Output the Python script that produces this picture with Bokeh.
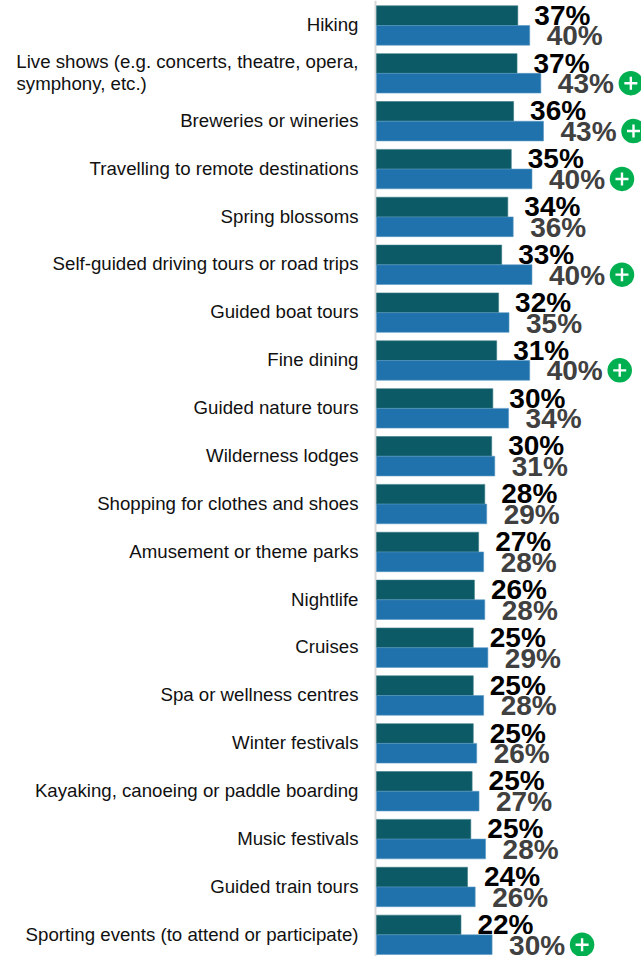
from bokeh.embed import file_html
from bokeh.models import ColumnDataSource, Range1d, Span
from bokeh.plotting import figure
from bokeh.resources import INLINE
from bokeh.core.properties import value

activities = [
    "Hiking",
    "Live shows (e.g. concerts, theatre, opera,\nsymphony, etc.)",
    "Breweries or wineries",
    "Travelling to remote destinations",
    "Spring blossoms",
    "Self-guided driving tours or road trips",
    "Guided boat tours",
    "Fine dining",
    "Guided nature tours",
    "Wilderness lodges",
    "Shopping for clothes and shoes",
    "Amusement or theme parks",
    "Nightlife",
    "Cruises",
    "Spa or wellness centres",
    "Winter festivals",
    "Kayaking, canoeing or paddle boarding",
    "Music festivals",
    "Guided train tours",
    "Sporting events (to attend or participate)",
]
earlier = [36.8, 36.6, 35.7, 35.1, 34.2, 32.6, 31.8, 31.3, 30.3, 30.0,
           28.2, 26.6, 25.5, 25.2, 25.2, 25.2, 24.9, 24.56, 23.7, 22.0]
latest = [39.9, 42.8, 43.49, 40.49, 35.6, 40.49, 34.51, 39.9, 34.4, 30.8,
          28.7, 27.9, 28.2, 29.0, 27.9, 26.1, 26.7, 28.4, 25.7, 30.1]
significant_gain = [False, True, True, True, False, True, False, True, False, False,
                    False, False, False, False, False, False, False, False, False, True]

W, H = 641, 956
ZERO_PX = 376        # pixel position of the zero line
PX_PER_UNIT = 3.84   # pixels per percentage point
ROW_PX = 47.86       # row pitch
FIRST_ROW_PX = 25    # centre of the first row
BAR_PX = 19.7        # thickness of one bar
BADGE_GAP_PX = 90    # bar end to centre of the "+" badge
FONT = "Liberation Sans"

rows = list(range(len(activities)))
half_bar = BAR_PX / ROW_PX / 2

p = figure(
    width=W, height=H, output_backend="svg", toolbar_location=None,
    x_range=Range1d(-ZERO_PX / PX_PER_UNIT, (W - ZERO_PX) / PX_PER_UNIT),
    y_range=Range1d((H - FIRST_ROW_PX) / ROW_PX, -FIRST_ROW_PX / ROW_PX),
    min_border=0, outline_line_color=None, x_axis_type=None, y_axis_type=None,
)
p.grid.visible = False

p.add_layout(Span(location=-1 / PX_PER_UNIT, dimension="height", line_color="#d9d9d9",
                  line_width=2, level="underlay"))

src = ColumnDataSource(dict(
    top_y=[r - half_bar for r in rows],
    low_y=[r + half_bar for r in rows],
    earlier=earlier,
    latest=latest,
    earlier_txt=[f"{v:.0f}%" for v in earlier],
    latest_txt=[f"{v:.0f}%" for v in latest],
))

p.hbar(y="top_y", left=0, right="earlier", height=BAR_PX / ROW_PX, source=src,
       fill_color="#0b5a66", line_color="#3b7a85", line_width=0.6)
p.hbar(y="low_y", left=0, right="latest", height=BAR_PX / ROW_PX, source=src,
       fill_color="#1f72ab", line_color="#5a98c4", line_width=0.6)

p.text(x="earlier", y="top_y", text="earlier_txt", source=src, x_offset=16.5, y_offset=-0.5,
       text_font=value(FONT), text_font_style="bold", text_font_size="28px",
       text_color="#000000", text_align="left", text_baseline="middle")
p.text(x="latest", y="low_y", text="latest_txt", source=src, x_offset=17, y_offset=0.5,
       text_font=value(FONT), text_font_style="bold", text_font_size="28px",
       text_color="#404040", text_align="left", text_baseline="middle")

# Green "+" badge on rows with a significant gain
gain_rows = [r for r in rows if significant_gain[r]]
gain_src = ColumnDataSource(dict(
    x=[latest[r] + BADGE_GAP_PX / PX_PER_UNIT for r in gain_rows],
    y=[r + half_bar for r in gain_rows],
))
p.scatter(x="x", y="y", source=gain_src, marker="circle", size=24.5,
          fill_color="#00b050", line_color=None)
p.scatter(x="x", y="y", source=gain_src, marker="cross", size=13,
          line_color="#ffffff", line_width=2.4, fill_color=None)

# Category labels; a wrapped label keeps its second line flush left of the block
first_lines, first_y, second_lines, second_y = [], [], [], []
for r, name in zip(rows, activities):
    parts = name.split("\n")
    if len(parts) == 2:
        first_lines.append(parts[0])
        first_y.append(r - 0.23)
        second_lines.append(parts[1])
        second_y.append(r + 0.23)
    else:
        first_lines.append(name)
        first_y.append(r)

p.text(x=[0] * len(first_lines), y=first_y, text=first_lines, x_offset=-18, y_offset=-0.8,
       text_font=value(FONT), text_font_size="18.67px", text_color="#111111",
       text_align="right", text_baseline="middle")
p.text(x=[0] * len(second_lines), y=second_y, text=second_lines, x_offset=-360, y_offset=-0.8,
       text_font=value(FONT), text_font_size="18.67px", text_color="#111111",
       text_align="left", text_baseline="middle")

open("out.html", "w").write(file_html(p, INLINE))
